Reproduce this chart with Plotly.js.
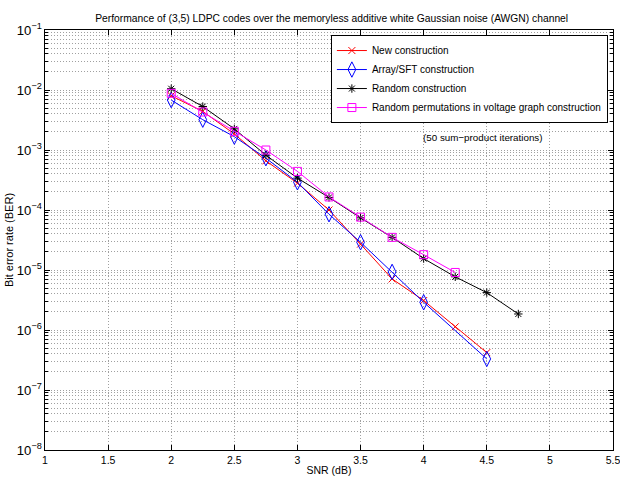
<!DOCTYPE html>
<html>
<head>
<meta charset="utf-8">
<script src="https://cdn.plot.ly/plotly-3.0.1.min.js"></script>
<style>html,body{margin:0;padding:0;background:#fff;}#chart{width:620px;height:479px;}</style>
</head>
<body>
<div id="chart"></div>
<script>
// SNR values (dB)
const snrNew = [2, 2.25, 2.5, 2.75, 3, 3.25, 3.5, 3.75, 4, 4.25, 4.5];
const snrArray = [2, 2.25, 2.5, 2.75, 3, 3.25, 3.5, 3.75, 4, 4.5];
const snrRandom = [2, 2.25, 2.5, 2.75, 3, 3.25, 3.5, 3.75, 4, 4.25, 4.5, 4.75];
const snrVoltage = [2, 2.25, 2.5, 2.75, 3, 3.25, 3.5, 3.75, 4, 4.25];

// BER values
const berNew = [8.0e-3, 4.4e-3, 1.85e-3, 6.6e-4, 2.8e-4, 1.0e-4, 2.7e-5, 7.1e-6, 3.1e-6, 1.13e-6, 4.2e-7];
const berArray = [6.8e-3, 3.2e-3, 1.67e-3, 7.3e-4, 2.9e-4, 8.5e-5, 2.9e-5, 9.3e-6, 2.9e-6, 3.3e-7];
const berRandom = [1.05e-2, 5.3e-3, 2.25e-3, 8.2e-4, 3.4e-4, 1.62e-4, 7.4e-5, 3.5e-5, 1.55e-5, 7.7e-6, 4.2e-6, 1.85e-6];
const berVoltage = [8.8e-3, 4.3e-3, 2.05e-3, 1.0e-3, 4.4e-4, 1.65e-4, 7.6e-5, 3.5e-5, 1.8e-5, 9.1e-6];

const seriesNames = ["New construction", "Array/SFT construction", "Random construction", "Random permutations in voltage graph construction"];
const xTickVals = [1, 1.5, 2, 2.5, 3, 3.5, 4, 4.5, 5, 5.5];
const xTickText = ["1", "1.5", "2", "2.5", "3", "3.5", "4", "4.5", "5", "5.5"];

const FONT = '"Liberation Sans", Arial, Helvetica, sans-serif';

const traces = [
  {x: snrNew, y: berNew, name: seriesNames[0], mode: 'lines+markers',
   line: {color: '#ff0000', width: 1}, marker: {symbol: 'x-thin-open', size: 7, color: '#ff0000', line: {color: '#ff0000', width: 1}}},
  {x: snrArray, y: berArray, name: seriesNames[1], mode: 'lines+markers',
   line: {color: '#0000ff', width: 1}, marker: {symbol: 'diamond-tall-open', size: 11, color: '#0000ff', line: {color: '#0000ff', width: 1}}},
  {x: snrRandom, y: berRandom, name: seriesNames[2], mode: 'lines+markers',
   line: {color: '#000000', width: 1}, marker: {symbol: 'asterisk-open', size: 7, color: '#000000', line: {color: '#000000', width: 1}}},
  {x: snrVoltage, y: berVoltage, name: seriesNames[3], mode: 'lines+markers',
   line: {color: '#ff00ff', width: 1}, marker: {symbol: 'square-open', size: 8, color: '#ff00ff', line: {color: '#ff00ff', width: 1}}}
];

const gridCol = '#a0a0a0';
const gridDash = '1px,2px';
const layout = {
  width: 620, height: 479,
  margin: {l: 45, r: 7, t: 30, b: 29},
  paper_bgcolor: '#ffffff', plot_bgcolor: '#ffffff',
  font: {family: FONT, size: 10, color: '#000'},
  showlegend: true,
  title: {text: 'Performance of (3,5) LDPC codes over the memoryless additive white Gaussian noise (AWGN) channel',
          font: {family: FONT, size: 10.3, color: '#000'}, x: 0.535, xanchor: 'center', y: 0.962, yanchor: 'middle', yref: 'container'},
  xaxis: {
    range: [1, 5.5], tickvals: xTickVals, ticktext: xTickText,
    showline: true, linecolor: '#000', linewidth: 1, mirror: 'ticks',
    ticks: 'inside', ticklen: 5, tickcolor: '#000',
    showgrid: true, gridcolor: gridCol, griddash: gridDash, gridwidth: 1,
    zeroline: false, tickfont: {family: FONT, size: 10.5},
    ticklabeloverflow: 'allow',
    title: {text: 'SNR (dB)', font: {family: FONT, size: 10.5}, standoff: 2},
    automargin: false
  },
  yaxis: {
    type: 'log', range: [-8, -1], dtick: 1, exponentformat: 'power', showexponent: 'all',
    showline: true, linecolor: '#000', linewidth: 1, mirror: 'ticks',
    ticks: 'inside', ticklen: 5, tickcolor: '#000',
    showgrid: true, gridcolor: gridCol, griddash: gridDash, gridwidth: 1,
    minor: {dtick: 'D1', showgrid: true, gridcolor: gridCol, griddash: gridDash, gridwidth: 1, ticks: 'inside', ticklen: 3, tickcolor: '#000'},
    zeroline: false, tickfont: {family: FONT, size: 10.5},
    ticklabeloverflow: 'allow',
    title: {text: 'Bit error rate (BER)', font: {family: FONT, size: 11}, standoff: 0},
    automargin: false
  },
  legend: {
    x: 0.991, xanchor: 'right', y: 0.988, yanchor: 'top',
    bgcolor: '#ffffff', bordercolor: '#000', borderwidth: 1,
    font: {family: FONT, size: 10, color: '#000'},
    tracegroupgap: 0, itemwidth: 30
  },
  annotations: [{
    text: '(50 sum\u2212product iterations)', xref: 'paper', yref: 'paper',
    x: 0.771, y: 0.745, xanchor: 'center', yanchor: 'middle', showarrow: false,
    font: {family: FONT, size: 9.8, color: '#000'}
  }]
};

Plotly.newPlot('chart', traces, layout, {displayModeBar: false, staticPlot: true});
</script>
</body>
</html>
